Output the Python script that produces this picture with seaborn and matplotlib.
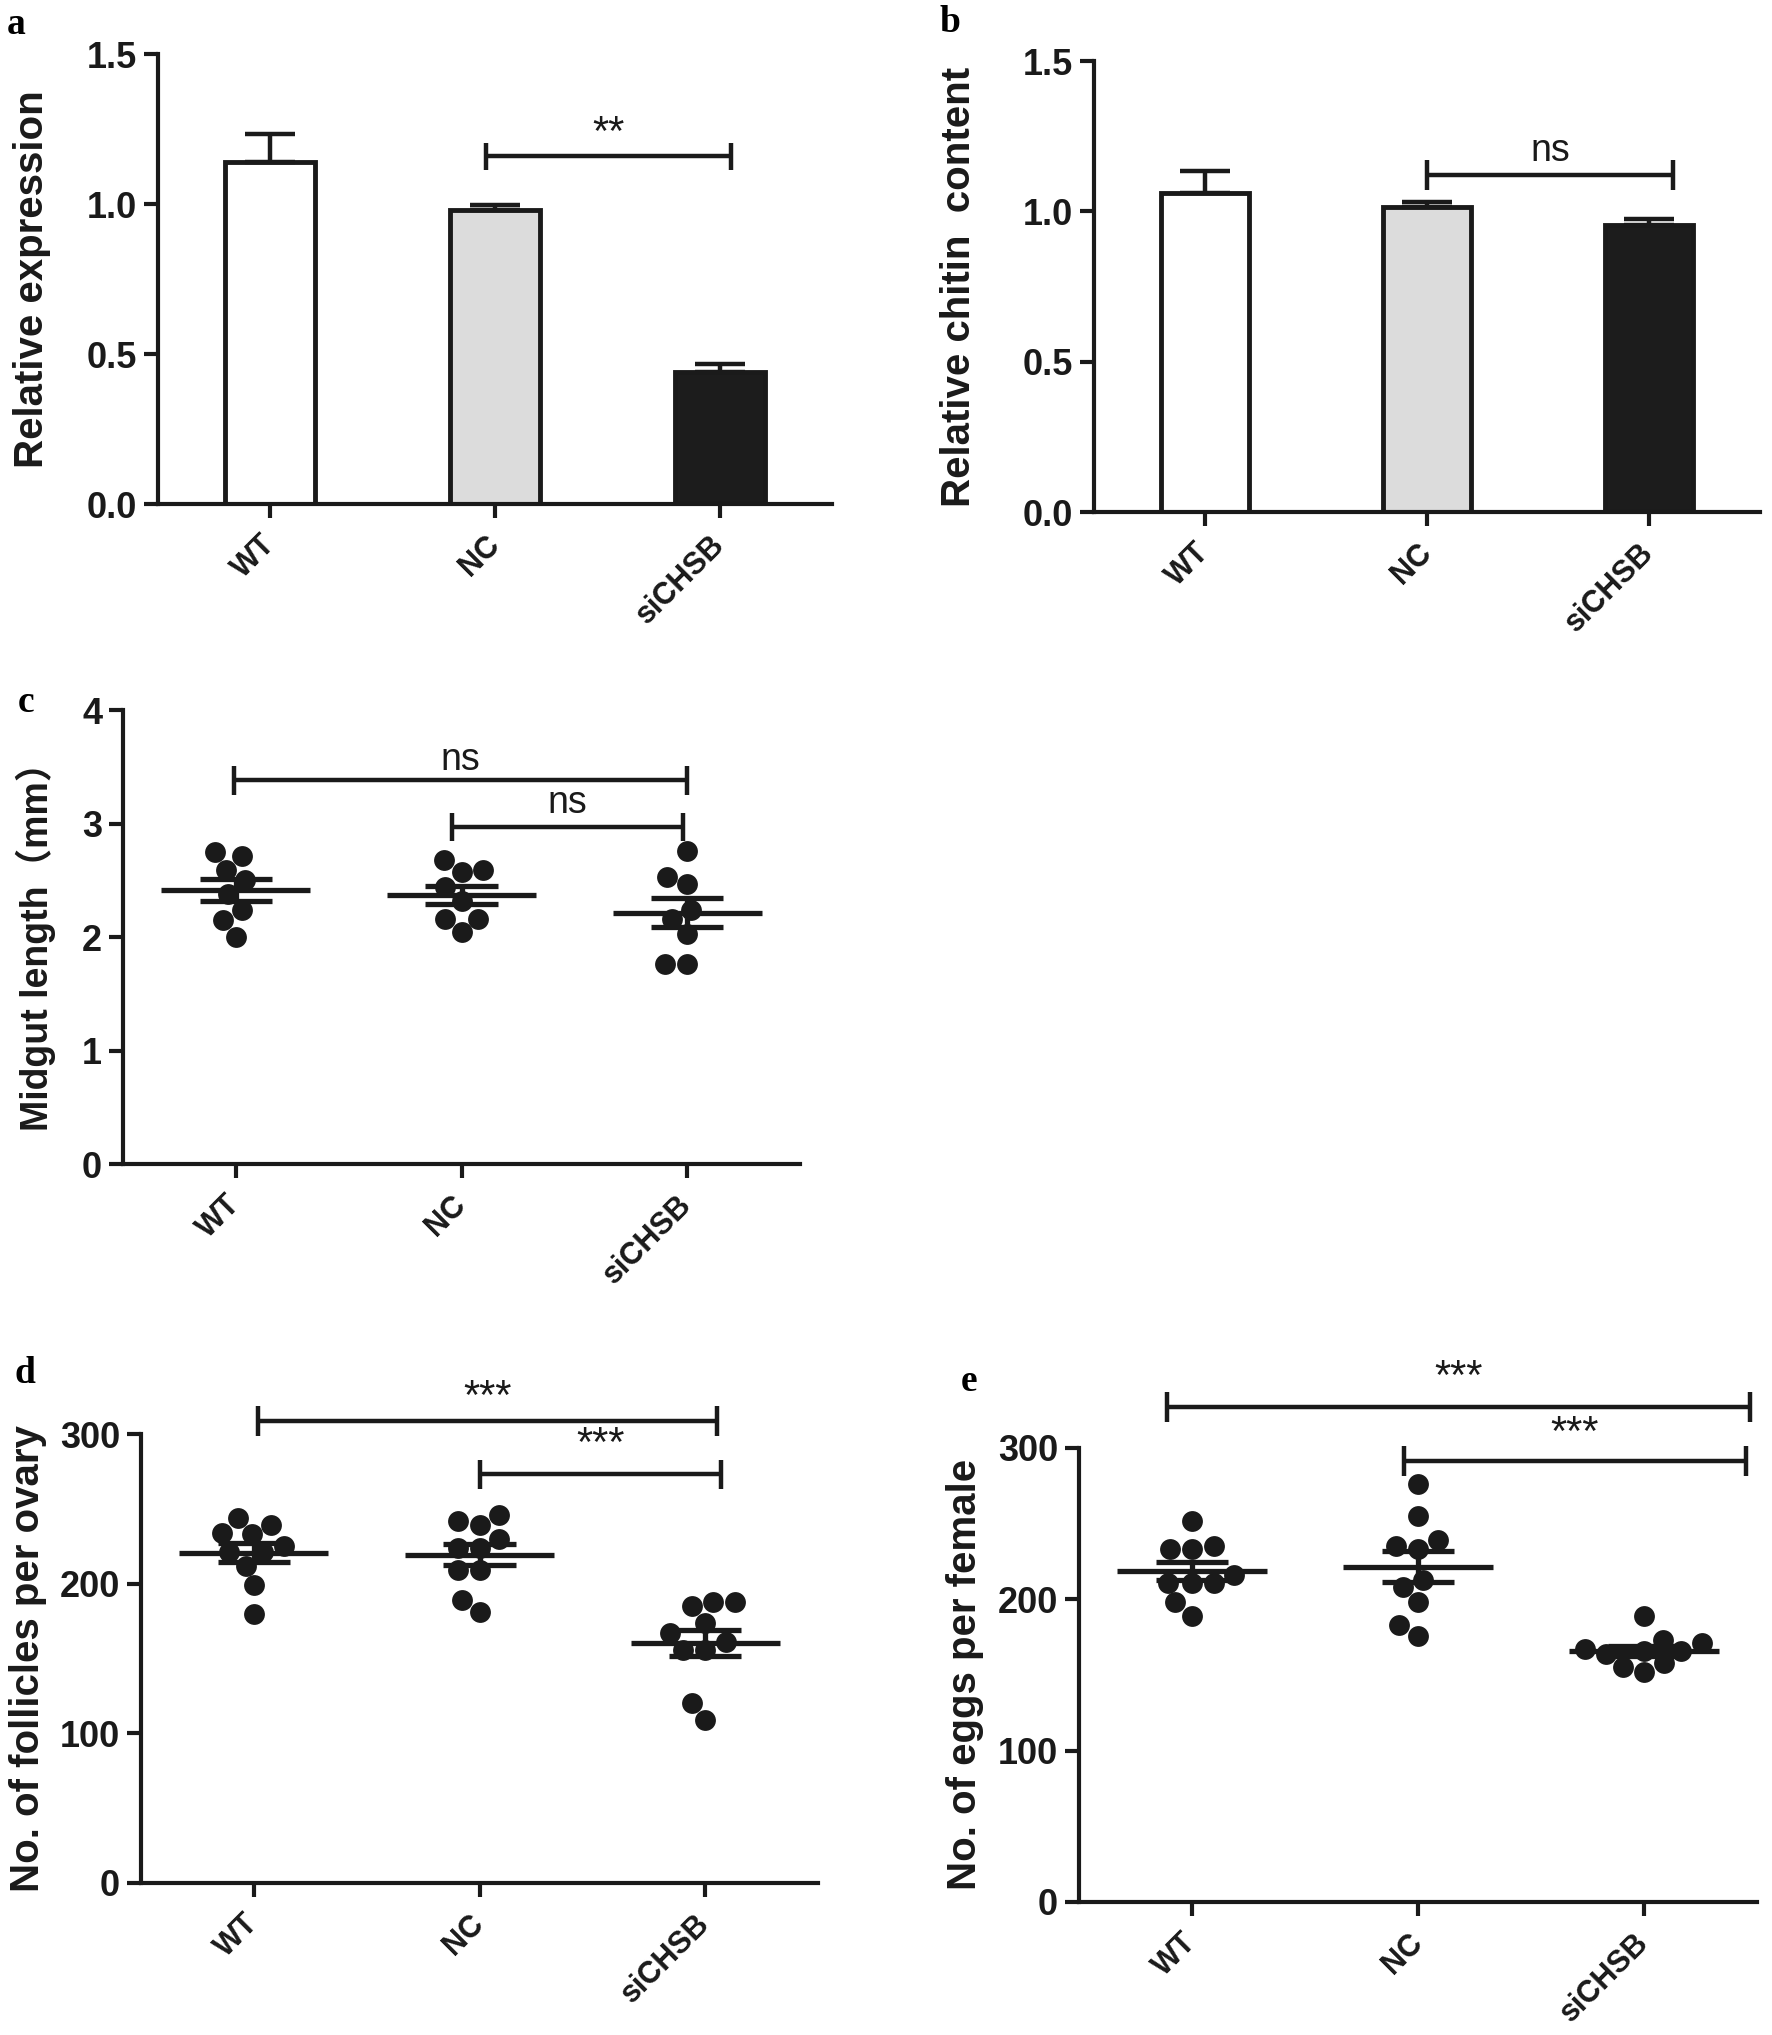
import numpy as np
import pandas as pd
import seaborn as sns
from matplotlib import pyplot as plt
from matplotlib.ticker import FormatStrFormatter

# ---- data ----
groups = ['WT', 'NC', 'siCHSB']

expr_mean = [1.14, 0.98, 0.44]          # a: relative expression
expr_err = [0.095, 0.017, 0.028]
chitin_mean = [1.06, 1.015, 0.955]      # b: relative chitin content
chitin_err = [0.075, 0.015, 0.02]

midgut_wt = [2.71, 2.75, 2.59, 2.50, 2.38, 2.24, 2.15, 2.00]     # c
midgut_nc = [2.59, 2.68, 2.57, 2.44, 2.32, 2.16, 2.16, 2.04]
midgut_si = [2.76, 2.53, 2.47, 2.24, 2.16, 2.03, 1.76, 1.76]

foll_wt = [234, 244, 239, 233, 225, 221, 221, 212, 199, 180]     # d
foll_nc = [242, 239, 246, 224, 230, 224, 209, 209, 189, 181]
foll_si = [188, 185, 188, 174, 167, 161, 156, 156, 120, 109]

eggs_wt = [252, 235, 233, 233, 216, 211, 211, 211, 198, 189]     # e
eggs_nc = [276, 255, 239, 235, 233, 213, 208, 198, 183, 176]
eggs_si = [189, 173, 171, 166, 167, 166, 164, 158, 152, 155]

INK = '#1a1a1a'
bar_colors = ['#ffffff', '#dcdcdc', '#1c1c1c']

sns.set_style('ticks')
plt.rcParams['font.family'] = ['Liberation Sans', 'Noto Sans CJK SC', 'DejaVu Sans']
NARROW = ['Liberation Sans Narrow', 'Liberation Sans']
LABEL_FAM = ['Liberation Sans', 'Noto Sans CJK SC', 'DejaVu Sans']

fig = plt.figure(figsize=(17.72, 20.35), dpi=100)


def style_axis(ax, ylabel, label_x, ylab_size=29):
    for s in ['top', 'right']:
        ax.spines[s].set_visible(False)
    for s in ['left', 'bottom']:
        ax.spines[s].set_linewidth(3.0)
        ax.spines[s].set_color(INK)
    ax.set_xlim(-0.5, 2.5)
    ax.tick_params(axis='both', length=10, width=3.0, color=INK, direction='out')
    ax.tick_params(axis='y', pad=5)
    ax.tick_params(axis='x', pad=16)
    for t in ax.get_yticklabels():
        t.set_family(NARROW)
        t.set_fontweight('bold')
        t.set_fontsize(26)
        t.set_color(INK)
    ax.set_xticks(range(len(groups)))
    ax.set_xticklabels(groups, rotation=45, ha='right', va='center',
                       rotation_mode='anchor', fontsize=22, fontweight='bold', color=INK)
    ax.set_xlabel('')
    ax.set_ylabel(ylabel, fontsize=ylab_size, fontweight='bold', color=INK, family=LABEL_FAM)
    ax.yaxis.set_label_coords(label_x, 0.5)


def sig_bar(ax, x1, x2, y, h, text, ty, fs=27):
    ax.plot([x1, x2], [y, y], color=INK, lw=3.2, clip_on=False, solid_capstyle='butt')
    ax.vlines([x1, x2], y - h, y + h, color=INK, lw=3.2, clip_on=False)
    ax.text((x1 + x2) / 2, ty, text, ha='center', va='center', fontsize=fs,
            family=NARROW, color=INK, clip_on=False)


def bar_panel(ax, means, errs):
    sns.barplot(x=groups, y=means, hue=groups, palette=bar_colors, width=0.4,
                edgecolor=INK, linewidth=3.5, errorbar=None, legend=False, ax=ax)
    ax.errorbar(np.arange(len(groups)), means, yerr=[np.zeros(len(errs)), errs],
                fmt='none', ecolor=INK, elinewidth=3.2, capsize=18, capthick=3.2, zorder=1)
    ax.set_ylim(0, 1.5)
    ax.set_yticks([0, 0.5, 1.0, 1.5])
    ax.yaxis.set_major_formatter(FormatStrFormatter('%.1f'))


def dot_panel(ax, series, ylim, yticks):
    df = pd.DataFrame({'group': np.repeat(groups, [len(s) for s in series]),
                       'value': np.concatenate(series)})
    sns.swarmplot(data=df, x='group', y='value', order=groups, color=INK,
                  size=15, ax=ax, zorder=2)
    for i, s in enumerate(series):
        m = np.mean(s)
        se = np.std(s, ddof=1) / np.sqrt(len(s))
        ax.hlines(m, i - 0.33, i + 0.33, color=INK, lw=3.8, zorder=3)
        ax.hlines([m - se, m + se], i - 0.16, i + 0.16, color=INK, lw=3.8, zorder=3)
        ax.vlines(i, m - se, m + se, color=INK, lw=3.8, zorder=3)
    ax.set_ylim(*ylim)
    ax.set_yticks(yticks)


# a
ax_a = fig.add_axes([0.0892, 0.7523, 0.3804, 0.2211])
bar_panel(ax_a, expr_mean, expr_err)
style_axis(ax_a, 'Relative expression', -0.159)
sig_bar(ax_a, 0.96, 2.05, 1.16, 0.045, '**', 1.235, fs=30)

# b
ax_b = fig.add_axes([0.6174, 0.7484, 0.3758, 0.2216])
bar_panel(ax_b, chitin_mean, chitin_err)
style_axis(ax_b, 'Relative chitin  content', -0.174)
sig_bar(ax_b, 1.0, 2.11, 1.12, 0.05, 'ns', 1.20)

# c
ax_c = fig.add_axes([0.0694, 0.4280, 0.3821, 0.2231])
dot_panel(ax_c, [midgut_wt, midgut_nc, midgut_si], (0, 4), [0, 1, 2, 3, 4])
style_axis(ax_c, 'Midgut length（mm）', -0.099, ylab_size=27)
sig_bar(ax_c, -0.01, 2.0, 3.38, 0.125, 'ns', 3.56)
sig_bar(ax_c, 0.96, 1.98, 2.97, 0.125, 'ns', 3.18)

# d
ax_d = fig.add_axes([0.0796, 0.0747, 0.3821, 0.2206])
dot_panel(ax_d, [foll_wt, foll_nc, foll_si], (0, 300), [0, 100, 200, 300])
style_axis(ax_d, 'No. of follicles per ovary', -0.139)
sig_bar(ax_d, 0.02, 2.05, 308.6, 10, '***', 324, fs=30)
sig_bar(ax_d, 1.0, 2.07, 273, 10, '***', 293, fs=30)

# e
ax_e = fig.add_axes([0.6089, 0.0654, 0.3826, 0.2231])
dot_panel(ax_e, [eggs_wt, eggs_nc, eggs_si], (0, 300), [0, 100, 200, 300])
style_axis(ax_e, 'No. of eggs per female', -0.14)
sig_bar(ax_e, -0.11, 2.47, 327, 10, '***', 346, fs=30)
sig_bar(ax_e, 0.94, 2.45, 291.5, 10, '***', 309, fs=30)

# panel letters
for lab, x, y in [('a', 0.004, 0.988), ('b', 0.530, 0.989), ('c', 0.010, 0.655),
                  ('d', 0.008, 0.325), ('e', 0.542, 0.321)]:
    fig.text(x, y, lab, fontsize=27, fontweight='bold', family='Liberation Serif',
             ha='left', va='center', color='black')

fig.savefig('out.png', dpi=100, facecolor='white')
